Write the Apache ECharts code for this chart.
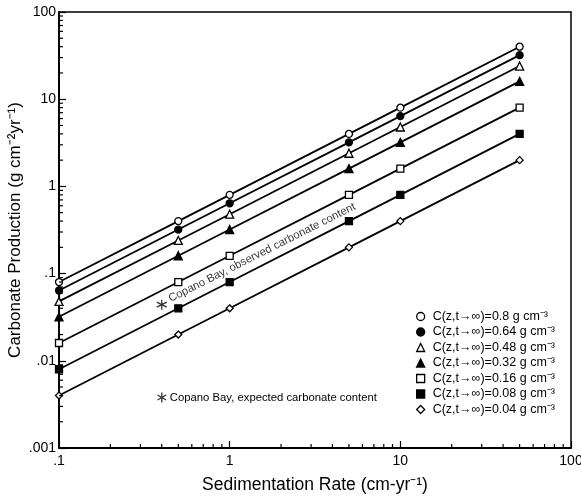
<!DOCTYPE html>
<html>
<head>
<meta charset="utf-8">
<script src="https://cdn.jsdelivr.net/npm/echarts@6/dist/echarts.min.js"></script>
<style>
  html, body { margin: 0; padding: 0; background: #fff; }
  #chart { width: 581px; height: 496px; }
</style>
</head>
<body>
<div id="chart"></div>
<script>
// Sedimentation rates (cm/yr) at which production was evaluated
const rates = [0.1, 0.5, 1, 5, 10, 50];

// Carbonate production (g cm^-2 yr^-1) for each asymptotic carbonate content
const prod080 = [0.08, 0.4, 0.8, 4, 8, 40];
const prod064 = [0.064, 0.32, 0.64, 3.2, 6.4, 32];
const prod048 = [0.048, 0.24, 0.48, 2.4, 4.8, 24];
const prod032 = [0.032, 0.16, 0.32, 1.6, 3.2, 16];
const prod016 = [0.016, 0.08, 0.16, 0.8, 1.6, 8];
const prod008 = [0.008, 0.04, 0.08, 0.4, 0.8, 4];
const prod004 = [0.004, 0.02, 0.04, 0.2, 0.4, 2];

const seriesNames = [
  'C(z,t→∞)=0.8 g cm⁻³',
  'C(z,t→∞)=0.64 g cm⁻³',
  'C(z,t→∞)=0.48 g cm⁻³',
  'C(z,t→∞)=0.32 g cm⁻³',
  'C(z,t→∞)=0.16 g cm⁻³',
  'C(z,t→∞)=0.08 g cm⁻³',
  'C(z,t→∞)=0.04 g cm⁻³'
];
const seriesValues = [prod080, prod064, prod048, prod032, prod016, prod008, prod004];

// Copano Bay point
const copanoName = 'Copano Bay, expected carbonate content';
const copanoNote = 'Copano Bay, observed carbonate content';
const copanoRate = [0.4];
const copanoProd = [0.044];

// Tick labels and tick marks
const xMajor = [0.1, 1, 10, 100];
const yMajor = [0.001, 0.01, 0.1, 1, 10, 100];
const xMinor = [0.2,0.3,0.4,0.5,0.6,0.7,0.8,0.9, 2,3,4,5,6,7,8,9, 20,30,40,50,60,70,80,90];
const yMinor = [0.002,0.003,0.004,0.005,0.006,0.007,0.008,0.009,
                0.02,0.03,0.04,0.05,0.06,0.07,0.08,0.09,
                0.2,0.3,0.4,0.5,0.6,0.7,0.8,0.9,
                2,3,4,5,6,7,8,9, 20,30,40,50,60,70,80,90];

const symbols = ['circle','circle','triangle','triangle','rect','rect','diamond'];
const filled  = [false, true, false, true, false, true, false];

const FONT = 'Liberation Sans, Arial, Helvetica, sans-serif';
const fmt = v => (v < 1 ? String(v).replace(/^0/, '') : String(v));

const asterisk = 'path://M0,-5L0,5M-4.33,-2.5L4.33,2.5M-4.33,2.5L4.33,-2.5';

const lineSeries = seriesNames.map((name, i) => ({
  name: name,
  type: 'line',
  xAxisIndex: 0,
  yAxisIndex: 0,
  data: rates.map((r, j) => [r, seriesValues[i][j]]),
  symbol: symbols[i],
  symbolSize: symbols[i] === 'triangle' ? 8 : 7,
  lineStyle: { color: '#000', width: 1.8 },
  itemStyle: { color: filled[i] ? '#000' : '#fff', borderColor: '#000', borderWidth: 1.3 },
  emphasis: { disabled: true },
  z: 3
}));

const legendData = seriesNames.map((name, i) => ({
  name: name,
  icon: symbols[i],
  itemStyle: { color: filled[i] ? '#000' : '#fff', borderColor: '#000', borderWidth: 1.3 }
}));

const majorTick = { show: true, inside: true, length: 7, lineStyle: { color: '#000', width: 1.2 } };

// Frame edges on top and right: plain axis lines without ticks or labels
const frameAxis = (extra) => Object.assign({
  type: 'log', logBase: 10,
  axisLine: { show: true, onZero: false, lineStyle: { color: '#000', width: 1.5 } },
  axisTick: { show: false },
  axisLabel: { show: false },
  splitLine: { show: false }
}, extra);

const option = {
  animation: false,
  grid: {
    left: 59, right: 10, top: 12, bottom: 48,
    outerBoundsMode: 'none',
    containLabel: false
  },
  legend: [
    {
      data: legendData,
      orient: 'vertical',
      left: 416, top: 310,
      itemWidth: 8, itemHeight: 8,
      itemGap: 2.5,
      textStyle: { fontFamily: FONT, fontSize: 12.5, color: '#000', lineHeight: 13, padding: [0, 0, 0, 3] },
      padding: 0,
      selectedMode: false
    },
    {
      data: [{ name: copanoName, icon: asterisk,
               itemStyle: { color: 'none', borderColor: '#000', borderWidth: 1.3 } }],
      left: 155, top: 390,
      itemWidth: 10, itemHeight: 10,
      textStyle: { fontFamily: FONT, fontSize: 11.3, color: '#000', padding: [0, 0, 0, -2] },
      padding: 0,
      selectedMode: false
    }
  ],
  xAxis: [
    {
      type: 'log', logBase: 10, min: 0.1, max: 100,
      position: 'bottom',
      name: 'Sedimentation Rate (cm-yr⁻¹)',
      nameLocation: 'middle', nameGap: 28,
      nameMoveOverlap: false,
      nameTextStyle: { fontFamily: FONT, fontSize: 17.5, color: '#000' },
      axisLine: { show: true, onZero: false, lineStyle: { color: '#000', width: 2 } },
      axisTick: majorTick,
      axisLabel: { fontFamily: FONT, fontSize: 14, color: '#000', margin: 6, formatter: fmt, customValues: xMajor },
      splitLine: { show: false }
    },
    frameAxis({ min: 0.1, max: 100, position: 'top' })
  ],
  yAxis: [
    {
      type: 'log', logBase: 10, min: 0.001, max: 100,
      position: 'left',
      name: 'Carbonate Production (g cm⁻²yr⁻¹)',
      nameLocation: 'middle', nameGap: 35,
      nameMoveOverlap: false,
      nameTextStyle: { fontFamily: FONT, fontSize: 17, color: '#000' },
      axisLine: { show: true, onZero: false, lineStyle: { color: '#000', width: 2 } },
      axisTick: majorTick,
      axisLabel: { fontFamily: FONT, fontSize: 14, color: '#000', margin: 3, formatter: fmt, customValues: yMajor },
      splitLine: { show: false }
    },
    frameAxis({ min: 0.001, max: 100, position: 'right' })
  ],
  series: lineSeries.concat([
    {
      name: copanoName,
      type: 'scatter',
      xAxisIndex: 0,
      yAxisIndex: 0,
      data: copanoRate.map((r, j) => [r, copanoProd[j]]),
      symbol: asterisk,
      symbolSize: 10,
      itemStyle: { color: 'none', borderColor: '#000', borderWidth: 1.3 },
      label: {
        show: true,
        formatter: copanoNote,
        position: 'right',
        rotate: 26.7,
        offset: [-2, -7],
        fontFamily: FONT, fontSize: 11.3, color: '#000'
      },
      emphasis: { disabled: true },
      z: 4
    }
  ])
};

const chart = echarts.init(document.getElementById('chart'), null, { renderer: 'canvas' });
chart.setOption(option);

// Inward minor tick marks on the bottom and left axes, placed through the axis scales
function tickLines(values, onX, len) {
  const out = [];
  values.forEach(v => {
    let p = null;
    try {
      p = chart.convertToPixel({ xAxisIndex: 0, yAxisIndex: 0 }, onX ? [v, yMajor[0]] : [xMajor[0], v]);
    } catch (e) { p = null; }
    if (!p || !isFinite(p[0]) || !isFinite(p[1])) return;
    const shape = onX
      ? { x1: p[0], y1: p[1], x2: p[0], y2: p[1] - len }
      : { x1: p[0], y1: p[1], x2: p[0] + len, y2: p[1] };
    out.push({ type: 'line', silent: true, z: 100, shape: shape, style: { stroke: '#000', lineWidth: 1.2 } });
  });
  return out;
}

chart.setOption({
  graphic: { elements: [].concat(tickLines(xMinor, true, 4), tickLines(yMinor, false, 4)) }
});
</script>
</body>
</html>
